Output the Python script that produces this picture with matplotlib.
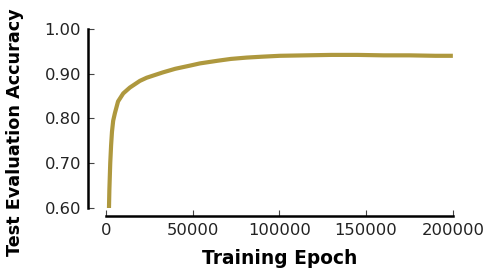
import matplotlib
matplotlib.use('Agg')
import matplotlib.pyplot as plt

# Values
epochs = [1500, 2000, 2500, 3000, 3500, 4200, 5200, 7000, 10000, 13800,
          19600, 23500, 32900, 40000, 48400, 54200, 64500, 72000, 81100,
          90000, 100300, 115000, 130000, 145000, 160000, 175000, 190000,
          200000]
accuracy = [0.55, 0.64, 0.70, 0.74, 0.77, 0.795, 0.812, 0.838, 0.856, 0.869,
            0.884, 0.891, 0.903, 0.911, 0.918, 0.923, 0.929, 0.933, 0.936,
            0.938, 0.940, 0.941, 0.942, 0.942, 0.941, 0.941, 0.940, 0.940]

LINE_COLOR = '#ae983e'
TEXT_COLOR = '#222222'


def main() -> None:
    fig = plt.figure(figsize=(4.88, 2.68), dpi=100)
    ax = fig.add_axes([0.217, 0.224, 0.711, 0.668])

    ax.plot(epochs, accuracy, color=LINE_COLOR, lw=3.0,
            solid_capstyle='butt')

    ax.set_xlim(0, 200000)
    ax.set_ylim(0.6, 1.0)
    ax.set_xticks([0, 50000, 100000, 150000, 200000])
    ax.set_yticks([0.6, 0.7, 0.8, 0.9, 1.0])
    ax.set_yticklabels(['0.60', '0.70', '0.80', '0.90', '1.00'])

    for side in ('top', 'right'):
        ax.spines[side].set_visible(False)
    # offsets are in points (100 dpi -> 0.72 pt per px)
    ax.spines['left'].set_position(('outward', 13))
    ax.spines['bottom'].set_position(('outward', 6))
    ax.spines['left'].set_linewidth(1.8)
    ax.spines['bottom'].set_linewidth(1.8)
    ax.spines['left'].set_bounds(0.6, 1.0)
    ax.spines['bottom'].set_bounds(0, 200000)

    ax.tick_params(axis='both', direction='in', labelsize=11.8, length=4.5,
                   width=0.8, color='#444444', labelcolor=TEXT_COLOR)
    ax.tick_params(axis='y', pad=5)
    ax.tick_params(axis='x', pad=5)
    ax.set_xlabel('Training Epoch', fontsize=13.4, fontweight='bold',
                  labelpad=8)
    ax.set_ylabel('Test Evaluation Accuracy', fontsize=12.7,
                  fontweight='bold')
    ax.yaxis.set_label_coords(-0.235, 0.425)

    plt.savefig('out.png', dpi=100)


if __name__ == '__main__':
    main()
